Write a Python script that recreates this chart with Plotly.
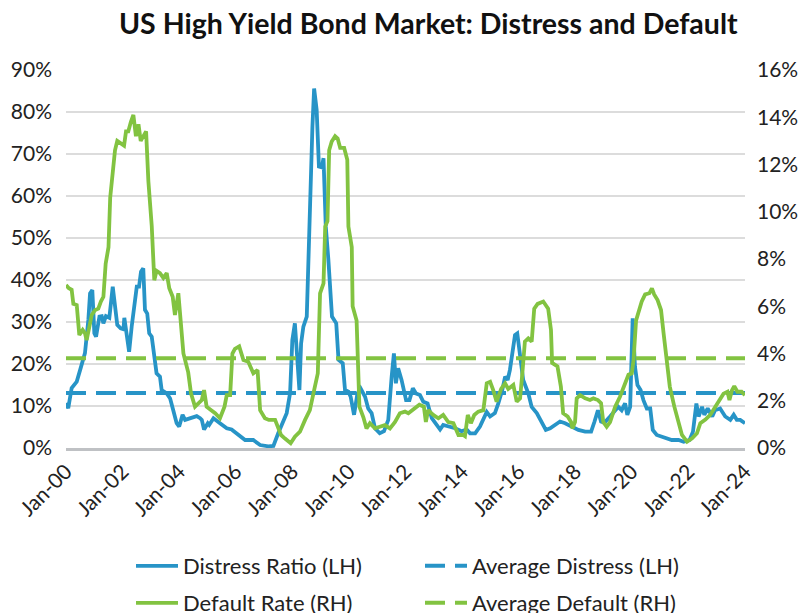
import pandas as pd
import plotly.graph_objects as go

# ---------------- data ----------------
distress_t = [2000.00, 2000.08, 2000.2, 2000.38, 2000.5, 2000.67, 2000.79, 2000.85, 2000.93, 2001.0,
              2001.06, 2001.18, 2001.26, 2001.32, 2001.41, 2001.53, 2001.65, 2001.73, 2001.81, 2001.93,
              2002.03, 2002.06, 2002.14, 2002.23, 2002.32, 2002.44, 2002.5, 2002.58, 2002.65, 2002.73,
              2002.79, 2002.87, 2002.94, 2003.03, 2003.11, 2003.2, 2003.32, 2003.38, 2003.56, 2003.68,
              2003.79, 2003.91, 2004.0, 2004.12, 2004.21, 2004.44, 2004.62, 2004.74, 2004.8, 2004.88,
              2005.01, 2005.06, 2005.21, 2005.44, 2005.68, 2005.85, 2006.09, 2006.33, 2006.62, 2006.86,
              2007.15, 2007.33, 2007.5, 2007.65, 2007.8, 2007.92, 2008.0, 2008.09, 2008.19, 2008.25,
              2008.31, 2008.39, 2008.51, 2008.62, 2008.71, 2008.77, 2008.86, 2008.94, 2009.04, 2009.1,
              2009.18, 2009.27, 2009.4, 2009.55, 2009.63, 2009.78, 2009.86, 2009.98, 2010.06, 2010.18,
              2010.3, 2010.41, 2010.57, 2010.68, 2010.8, 2010.92, 2011.09, 2011.24, 2011.39, 2011.51,
              2011.59, 2011.66, 2011.74, 2011.86, 2012.02, 2012.14, 2012.26, 2012.37, 2012.51, 2012.63,
              2012.78, 2012.93, 2013.1, 2013.22, 2013.33, 2013.57, 2013.75, 2013.98, 2014.16, 2014.28,
              2014.46, 2014.63, 2014.75, 2014.87, 2014.99, 2015.16, 2015.28, 2015.42, 2015.52, 2015.61,
              2015.69, 2015.81, 2015.87, 2015.95, 2016.05, 2016.16, 2016.34, 2016.46, 2016.64, 2016.81,
              2016.96, 2017.11, 2017.29, 2017.46, 2017.64, 2017.87, 2018.11, 2018.35, 2018.56, 2018.68,
              2018.8, 2018.91, 2019.03, 2019.23, 2019.41, 2019.52, 2019.64, 2019.76, 2019.84, 2019.94,
              2020.03, 2020.11, 2020.2, 2020.31, 2020.41, 2020.53, 2020.65, 2020.74, 2020.88, 2021.06,
              2021.24, 2021.41, 2021.65, 2021.83, 2022.04, 2022.16, 2022.28, 2022.36, 2022.48, 2022.56,
              2022.68, 2022.84, 2022.94, 2023.12, 2023.3, 2023.48, 2023.6, 2023.71, 2023.83, 2024.0]
distress_ratio = [10.7, 9.5, 14.3, 15.8, 18.6, 22.6, 30.5, 36.8, 37.6, 27.3,
                  26.5, 31.3, 31.4, 29.7, 31.4, 31.0, 38.4, 34.5, 29.3, 28.5,
                  28.3, 31.0, 26.5, 22.9, 28.9, 35.6, 38.4, 38.4, 42.0, 42.8,
                  32.9, 32.0, 27.3, 26.5, 22.5, 17.8, 17.0, 13.8, 13.0, 11.8,
                  9.0, 5.9, 5.1, 7.9, 6.7, 7.1, 7.6, 7.1, 6.7, 4.4,
                  5.9, 5.5, 7.1, 5.9, 4.7, 4.4, 3.1, 1.9, 1.9, 0.7,
                  0.4, 0.5, 3.5, 5.9, 8.3, 13.1, 25.7, 29.7, 21.0, 13.8,
                  24.9, 28.9, 31.3, 60.6, 76.5, 85.6, 80.5, 67.0, 66.8, 69.0,
                  52.7, 45.0, 31.3, 29.7, 21.0, 20.2, 13.8, 13.4, 12.2, 7.9,
                  13.0, 14.2, 12.2, 9.4, 8.3, 4.7, 3.5, 4.0, 6.7, 17.0,
                  22.5, 15.4, 19.0, 16.2, 11.4, 11.4, 14.2, 13.0, 12.6, 11.0,
                  10.6, 7.1, 5.5, 4.4, 5.5, 5.1, 4.7, 4.0, 4.4, 3.5,
                  3.5, 5.1, 6.7, 8.6, 7.5, 8.3, 10.6, 13.8, 17.0, 16.2,
                  18.6, 24.1, 26.9, 27.3, 21.7, 16.2, 13.0, 9.8, 8.3, 6.3,
                  4.3, 4.7, 5.5, 6.3, 5.9, 5.1, 4.3, 3.9, 3.9, 6.3,
                  9.0, 6.3, 6.0, 7.5, 9.0, 9.8, 9.0, 10.6, 7.9, 9.8,
                  30.9, 19.4, 15.0, 13.8, 11.4, 9.4, 9.4, 4.3, 3.1, 2.7,
                  2.3, 1.9, 1.9, 1.5, 1.9, 3.9, 10.6, 7.5, 9.8, 7.9,
                  9.4, 7.5, 9.0, 9.4, 7.5, 6.7, 7.9, 6.7, 6.7, 5.9]

default_t = [2000.0, 2000.1, 2000.2, 2000.26, 2000.38, 2000.47, 2000.59, 2000.67, 2000.73, 2000.82,
             2000.91, 2001.03, 2001.14, 2001.23, 2001.32, 2001.4, 2001.5, 2001.56, 2001.65, 2001.73,
             2001.81, 2001.91, 2002.05, 2002.12, 2002.2, 2002.29, 2002.38, 2002.47, 2002.56, 2002.64,
             2002.73, 2002.83, 2002.91, 2003.03, 2003.12, 2003.2, 2003.32, 2003.44, 2003.56, 2003.65,
             2003.77, 2003.85, 2003.97, 2004.06, 2004.15, 2004.32, 2004.42, 2004.56, 2004.68, 2004.8,
             2004.88, 2004.97, 2005.13, 2005.27, 2005.44, 2005.6, 2005.68, 2005.8, 2005.88, 2005.97,
             2006.12, 2006.27, 2006.44, 2006.62, 2006.77, 2006.86, 2007.03, 2007.17, 2007.39, 2007.6,
             2007.74, 2007.94, 2008.09, 2008.27, 2008.45, 2008.62, 2008.78, 2008.9, 2008.98, 2009.1,
             2009.16, 2009.24, 2009.3, 2009.39, 2009.51, 2009.6, 2009.69, 2009.83, 2009.94, 2009.98,
             2010.1, 2010.13, 2010.27, 2010.37, 2010.51, 2010.62, 2010.74, 2010.92, 2011.09, 2011.27,
             2011.45, 2011.63, 2011.8, 2011.98, 2012.1, 2012.33, 2012.49, 2012.65, 2012.72, 2012.8,
             2012.98, 2013.16, 2013.33, 2013.51, 2013.69, 2013.87, 2014.04, 2014.1, 2014.2, 2014.31,
             2014.43, 2014.57, 2014.75, 2014.87, 2014.99, 2015.1, 2015.22, 2015.38, 2015.52, 2015.63,
             2015.81, 2015.93, 2016.05, 2016.13, 2016.22, 2016.34, 2016.46, 2016.55, 2016.67, 2016.87,
             2017.04, 2017.14, 2017.18, 2017.37, 2017.49, 2017.57, 2017.73, 2017.85, 2017.9, 2017.99,
             2018.05, 2018.17, 2018.35, 2018.52, 2018.64, 2018.8, 2018.91, 2018.99, 2019.11, 2019.23,
             2019.41, 2019.58, 2019.76, 2019.88, 2020.0, 2020.06, 2020.15, 2020.23, 2020.35, 2020.47,
             2020.62, 2020.71, 2020.79, 2020.91, 2021.03, 2021.12, 2021.22, 2021.34, 2021.5, 2021.65,
             2021.77, 2021.95, 2022.13, 2022.3, 2022.42, 2022.6, 2022.77, 2022.95, 2023.1, 2023.24,
             2023.38, 2023.45, 2023.54, 2023.62, 2023.73, 2023.88, 2024.0]
default_rate = [6.9, 6.76, 6.7, 6.1, 6.05, 4.78, 5.0, 4.86, 4.57, 5.13,
                5.63, 5.84, 5.9, 6.2, 6.4, 7.8, 8.5, 10.6, 11.5, 12.6,
                13.0, 12.9, 12.8, 13.4, 13.4, 13.8, 14.1, 13.2, 13.7, 13.0,
                13.2, 13.4, 11.3, 9.4, 7.1, 7.5, 7.4, 7.2, 7.4, 6.76,
                6.4, 5.63, 6.55, 5.3, 4.0, 3.2, 2.3, 1.75, 1.9, 2.03,
                2.45, 1.75, 1.6, 1.47, 1.26, 1.75, 2.24, 2.24, 4.0, 4.2,
                4.3, 3.72, 3.65, 3.16, 3.3, 1.6, 1.26, 1.19, 1.19, 0.55,
                0.4, 0.2, 0.48, 0.69, 1.19, 1.6, 2.5, 3.16, 6.55, 6.97,
                9.37, 9.6, 12.6, 12.97, 13.2, 13.1, 12.7, 12.7, 12.2, 9.37,
                8.5, 6.0, 5.4, 1.75, 1.3, 0.83, 1.05, 0.83, 0.9, 0.97,
                0.83, 1.1, 1.47, 1.54, 1.47, 1.7, 1.83, 1.75, 1.1, 1.6,
                1.4, 1.26, 1.4, 1.1, 1.05, 0.55, 0.55, 0.5, 1.4, 1.05,
                1.4, 1.54, 1.6, 2.74, 2.8, 2.45, 1.96, 2.5, 2.74, 2.5,
                2.67, 1.96, 2.1, 3.16, 4.5, 4.64, 4.5, 5.9, 6.1, 6.2,
                5.9, 5.0, 3.6, 3.45, 2.6, 1.47, 1.33, 1.1, 0.83, 1.1,
                2.1, 2.24, 2.1, 2.03, 2.1, 2.03, 1.9, 1.1, 0.9, 1.1,
                1.75, 2.17, 2.74, 3.1, 3.16, 3.72, 5.4, 5.7, 6.2, 6.5,
                6.55, 6.76, 6.5, 6.26, 5.84, 4.86, 3.72, 2.6, 1.75, 1.05,
                0.55, 0.27, 0.41, 0.62, 1.05, 1.2, 1.4, 1.75, 2.03, 2.3,
                2.38, 2.03, 2.45, 2.62, 2.38, 2.38, 2.24]

average_t = [2000.0, 2024.0]
average_distress = [13.1, 13.1]
average_default = [3.8, 3.8]

left_ticks = [0, 10, 20, 30, 40, 50, 60, 70, 80, 90]
left_tick_labels = ["0%", "10%", "20%", "30%", "40%", "50%", "60%", "70%", "80%", "90%"]
right_ticks = [0, 2, 4, 6, 8, 10, 12, 14, 16]
right_tick_labels = ["0%", "2%", "4%", "6%", "8%", "10%", "12%", "14%", "16%"]

BLUE = "#2794c7"
GREEN = "#82c341"
FONT = "Lato"
TXT = "#222222"


def to_dates(ts):
    out = []
    for t in ts:
        y = int(t)
        out.append(pd.Timestamp(year=y, month=1, day=1) + pd.Timedelta(days=(t - y) * 365.25))
    return out


fig = go.Figure()
fig.add_trace(go.Scatter(x=to_dates(distress_t), y=distress_ratio, name="Distress Ratio (LH)",
                         mode="lines", line=dict(color=BLUE, width=3.8), yaxis="y", legend="legend"))
fig.add_trace(go.Scatter(x=to_dates(average_t), y=average_distress, name="Average Distress (LH)",
                         mode="lines", line=dict(color=BLUE, width=4, dash="20px,10px"),
                         yaxis="y", legend="legend"))
fig.add_trace(go.Scatter(x=to_dates(default_t), y=default_rate, name="Default Rate (RH)",
                         mode="lines", line=dict(color=GREEN, width=3.8), yaxis="y2", legend="legend2"))
fig.add_trace(go.Scatter(x=to_dates(average_t), y=average_default, name="Average Default (RH)",
                         mode="lines", line=dict(color=GREEN, width=4, dash="20px,10px"),
                         yaxis="y2", legend="legend2"))

legend_common = dict(orientation="h", xref="container", yref="container", xanchor="left",
                     yanchor="middle", entrywidth=232, entrywidthmode="pixels", itemwidth=42,
                     font=dict(family=FONT, size=22, color=TXT), bgcolor="rgba(0,0,0,0)")

fig.update_layout(
    width=802, height=613,
    margin=dict(l=66, r=57, t=70, b=165, autoexpand=False),
    paper_bgcolor="white", plot_bgcolor="white",
    font=dict(family=FONT, size=21, color=TXT),
    title=dict(text="<b>US High Yield Bond Market: Distress and Default</b>",
               xref="container", x=0.534, xanchor="center",
               yref="container", y=1 - 24 / 613, yanchor="middle",
               font=dict(family=FONT, size=28.5, color="#111111")),
    xaxis=dict(type="date", range=[pd.Timestamp("2000-01-01"), pd.Timestamp("2024-01-01")],
               tickvals=[pd.Timestamp(year=y, month=1, day=1) for y in range(2000, 2025, 2)],
               tickformat="%b-%y", tickangle=-45, showgrid=False,
               showline=True, linecolor="#bfc1c4", linewidth=3, ticks="",
               tickfont=dict(family=FONT, size=21, color=TXT)),
    yaxis=dict(range=[0, 90], tickmode="array", tickvals=left_ticks, ticktext=left_tick_labels,
               showgrid=True, gridcolor="#dcdcdc", gridwidth=1.5, zeroline=False, ticks="",
               ticklabelstandoff=13, tickfont=dict(family=FONT, size=21, color=TXT)),
    yaxis2=dict(range=[0, 16], tickmode="array", tickvals=right_ticks, ticktext=right_tick_labels,
                overlaying="y", side="right", showgrid=False, zeroline=False, ticks="",
                ticklabelstandoff=11, tickfont=dict(family=FONT, size=21, color=TXT)),
    legend=dict(x=131 / 802, y=1 - 566 / 613, **legend_common),
    legend2=dict(x=131 / 802, y=1 - 603 / 613, **legend_common),
    showlegend=True,
)

fig.write_html("out.html")
